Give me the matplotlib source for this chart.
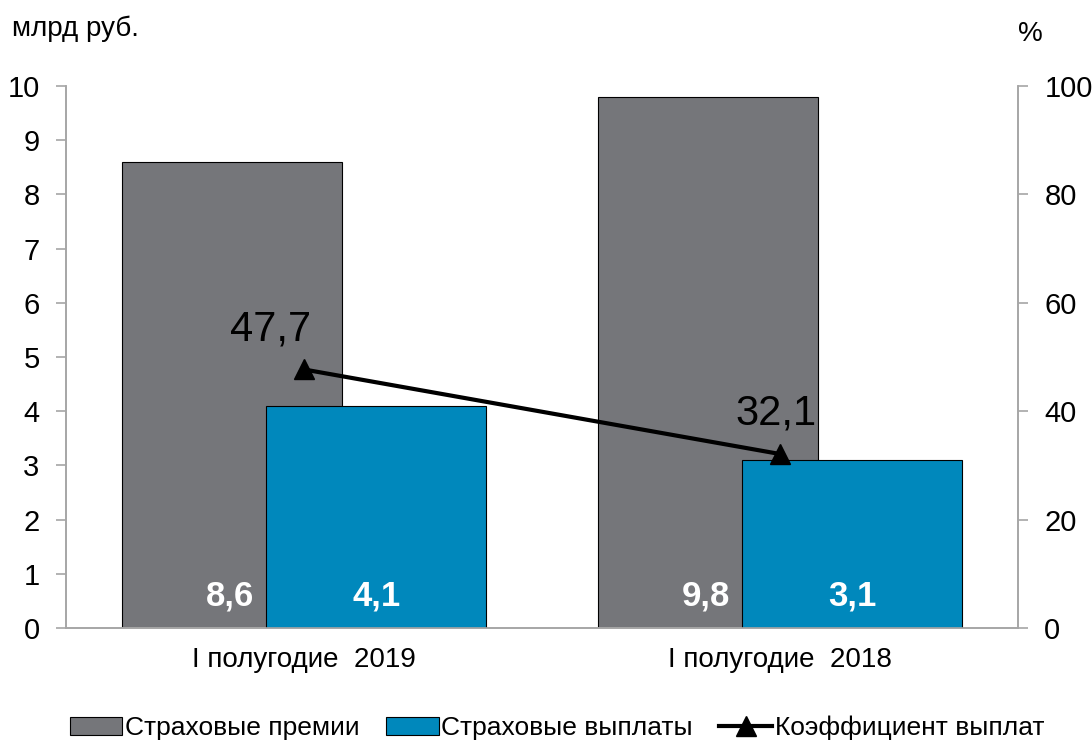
import matplotlib.pyplot as plt
import numpy as np

categories = ["I полугодие  2019", "I полугодие  2018"]
premiums = [8.6, 9.8]
payouts = [4.1, 3.1]
ratio = [47.7, 32.1]

premium_labels = ["8,6", "9,8"]
payout_labels = ["4,1", "3,1"]
ratio_labels = ["47,7", "32,1"]

plt.rcParams['font.family'] = ['Liberation Sans', 'DejaVu Sans']

gray = '#75767A'
blue = '#0088BC'
spine_col = '#A6A6A6'

fig = plt.figure(figsize=(10.92, 7.46), dpi=100)
ax = fig.add_axes([0.0604, 0.1582, 0.8718, 0.7265])
ax2 = ax.twinx()

x = np.arange(len(categories))
w = 0.462
off = 0.152

b1 = ax.bar(x - off, premiums, w, color=gray, edgecolor='black', linewidth=0.8,
            label='Страховые премии', zorder=2)
b2 = ax.bar(x + off, payouts, w, color=blue, edgecolor='black', linewidth=0.8,
            label='Страховые выплаты', zorder=3)

# value labels at the bottom of the bars
for i in range(len(categories)):
    ax.text(x[i] + off - w / 2 - 0.025, 0.42, premium_labels[i], ha='right', va='baseline',
            color='white', fontsize=25, fontweight='bold', zorder=4)
    ax.text(x[i] + off, 0.42, payout_labels[i], ha='center', va='baseline',
            color='white', fontsize=25, fontweight='bold', zorder=4)

ln, = ax2.plot(x, ratio, color='black', linewidth=3, marker='^', markersize=15,
               label='Коэффициент выплат', zorder=5)
label_dx = [-24, -3]
for i in range(len(categories)):
    ax2.annotate(ratio_labels[i], (x[i], ratio[i]), xytext=(label_dx[i], 21),
                 textcoords='offset points', ha='center', va='baseline', fontsize=30)

ax.set_xlim(-0.5, 1.5)
ax.set_ylim(0, 10)
ax2.set_ylim(0, 100)
ax.set_yticks(range(0, 11))
ax2.set_yticks(range(0, 101, 20))
ax.set_xticks(x)
ax.set_xticklabels(categories, fontsize=20)

for a in (ax, ax2):
    a.spines['top'].set_visible(False)
    for s in ('left', 'right', 'bottom'):
        a.spines[s].set_color(spine_col)
        a.spines[s].set_linewidth(1.2)
    a.tick_params(axis='y', labelsize=21, color=spine_col, length=7, width=1.2)
ax.tick_params(axis='x', length=0, pad=14)
ax.tick_params(axis='y', pad=12)
ax2.tick_params(axis='y', pad=12)
ax.set_zorder(ax2.get_zorder() - 1)
ax.patch.set_visible(False)
ax2.patch.set_visible(False)

fig.text(0.011, 0.962, 'млрд руб.', fontsize=20, va='center', ha='left')
fig.text(0.944, 0.955, '%', fontsize=20, va='center', ha='center')

fig.legend(handles=[b1, b2, ln], loc='center', bbox_to_anchor=(0.51, 0.024), ncol=3,
           frameon=False, fontsize=19, handlelength=2.0, handletextpad=0.1,
           columnspacing=1.0, borderaxespad=0)

fig.savefig('out.png', dpi=100)
